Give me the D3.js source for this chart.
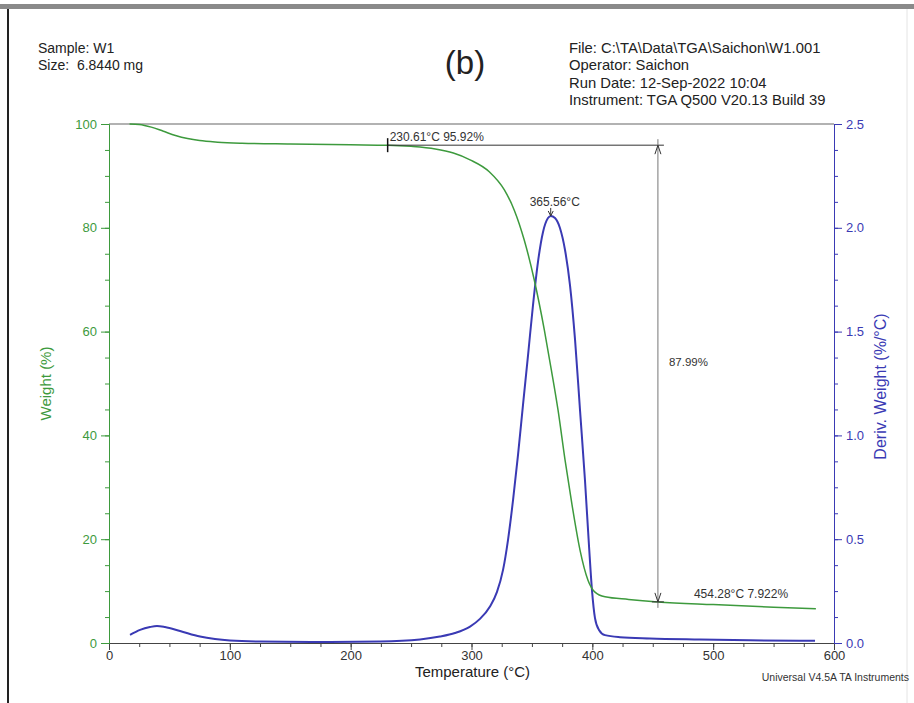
<!DOCTYPE html>
<html>
<head>
<meta charset="utf-8">
<script src="https://cdn.jsdelivr.net/npm/d3@7/dist/d3.min.js"></script>
<style>
  body { margin: 0; background: #fff; }
  text { font-family: "Liberation Sans", Arial, sans-serif; white-space: pre; }
</style>
</head>
<body>
<script>
// weight curve (green)
const weightT = [17, 25, 35, 45, 55, 65, 75, 90, 110, 150, 200, 230.6, 250, 270, 285, 298.8, 314.7, 327.2, 335.4, 343.7, 352.0, 360.3, 366.1, 371.6, 377.4, 383.2, 389.8, 396.4, 402.2, 410.5, 430, 454.28, 500, 550, 585];
const weightW = [100, 99.9, 99.4, 98.6, 97.8, 97.2, 96.8, 96.5, 96.3, 96.15, 96.0, 95.92, 95.7, 95.2, 94.4, 93.1, 90.8, 87.3, 83.4, 77.6, 69.9, 60.3, 52.6, 44.9, 35.3, 26.6, 17.9, 12.1, 9.8, 8.9, 8.4, 7.922, 7.4, 6.9, 6.6];

// derivative curve (blue)
const derivT = [17.4, 25.7, 33.9, 39.7, 46.3, 58.8, 75.3, 87.7, 100.1, 125, 182.9, 224.3, 257.4, 273.9, 286.3, 298.8, 307, 315.3, 321.1, 326.1, 330.2, 334.4, 338.5, 342.6, 346.8, 350.9, 355.0, 359.2, 363.3, 365.6, 369.1, 373.2, 377.4, 381.5, 385.7, 389.8, 393.9, 397.2, 399.7, 402.2, 405.5, 410.5, 422.9, 447.7, 489.1, 530.5, 571.9, 584.3];
const derivD = [0.039, 0.063, 0.077, 0.082, 0.077, 0.058, 0.031, 0.019, 0.012, 0.007, 0.005, 0.007, 0.017, 0.031, 0.048, 0.079, 0.116, 0.176, 0.246, 0.352, 0.496, 0.689, 0.906, 1.146, 1.387, 1.628, 1.835, 1.980, 2.047, 2.057, 2.047, 1.999, 1.893, 1.724, 1.460, 1.122, 0.785, 0.472, 0.255, 0.120, 0.063, 0.038, 0.028, 0.022, 0.017, 0.013, 0.011, 0.011];

const xTicks = [0, 100, 200, 300, 400, 500, 600];
const leftTicks = [0, 20, 40, 60, 80, 100];
const rightTicks = [0, 0.5, 1.0, 1.5, 2.0, 2.5];

const headerLeft = ["Sample: W1", "Size:  6.8440 mg"];
const headerRight = ["File: C:\\TA\\Data\\TGA\\Saichon\\W1.001", "Operator: Saichon", "Run Date: 12-Sep-2022 10:04", "Instrument: TGA Q500 V20.13 Build 39"];

// annotations
const stepStart = { t: 230.61, w: 95.92 };
const stepEnd = { t: 454.28, w: 7.922 };
const stepLoss = "87.99%";
const peak = { t: 365.56, d: 2.057 };

const green = "#3d9a3d";
const blue = "#3a3ab4";

const W = 914, H = 703;
const m = { left: 109, right: 834, top: 124, bottom: 643 };

const svg = d3.select("body").append("svg")
    .attr("width", W)
    .attr("height", H);

// page frame
svg.append("rect").attr("x", 0).attr("y", 4).attr("width", W).attr("height", 5).attr("fill", "#8a8a8a");
svg.append("line").attr("x1", 8).attr("x2", 8).attr("y1", 9).attr("y2", H)
    .attr("stroke", "#222").attr("stroke-width", 2);
svg.append("line").attr("x1", 907).attr("x2", 907).attr("y1", 9).attr("y2", H)
    .attr("stroke", "#e4e4e4").attr("stroke-width", 1);

const x = d3.scaleLinear().domain([0, 600]).range([m.left, m.right]);
const yW = d3.scaleLinear().domain([0, 100]).range([m.bottom, m.top]);
const yD = d3.scaleLinear().domain([0, 2.5]).range([m.bottom, m.top]);

// top border
svg.append("line").attr("x1", m.left).attr("x2", m.right).attr("y1", m.top).attr("y2", m.top)
    .attr("stroke", "#666").attr("stroke-width", 1.2);

// x axis
const xMin = svg.append("g").attr("transform", `translate(0,${m.bottom})`)
    .call(d3.axisBottom(x).tickValues(d3.range(0, 601, 25)).tickSize(4).tickFormat(""));
xMin.select(".domain").attr("stroke", "#444");
xMin.selectAll(".tick line").attr("stroke", "#444");
const xMaj = svg.append("g").attr("transform", `translate(0,${m.bottom})`)
    .call(d3.axisBottom(x).tickValues(xTicks).tickSize(7).tickPadding(1));
xMaj.select(".domain").remove();
xMaj.selectAll(".tick line").attr("stroke", "#444");
xMaj.selectAll("text").attr("font-size", 13).attr("fill", "#333");

// left axis
const lMin = svg.append("g").attr("transform", `translate(${m.left},0)`)
    .call(d3.axisLeft(yW).tickValues(d3.range(0, 101, 5)).tickSize(4).tickFormat(""));
lMin.select(".domain").attr("stroke", green);
lMin.selectAll(".tick line").attr("stroke", green);
const lMaj = svg.append("g").attr("transform", `translate(${m.left},0)`)
    .call(d3.axisLeft(yW).tickValues(leftTicks).tickSize(8).tickPadding(4));
lMaj.select(".domain").remove();
lMaj.selectAll(".tick line").attr("stroke", green);
lMaj.selectAll("text").attr("font-size", 13).attr("fill", green);

// right axis
const rMin = svg.append("g").attr("transform", `translate(${m.right},0)`)
    .call(d3.axisRight(yD).tickValues(d3.range(0, 2.501, 0.125)).tickSize(4).tickFormat(""));
rMin.select(".domain").attr("stroke", blue);
rMin.selectAll(".tick line").attr("stroke", blue);
const rMaj = svg.append("g").attr("transform", `translate(${m.right},0)`)
    .call(d3.axisRight(yD).tickValues(rightTicks).tickSize(8).tickPadding(4).tickFormat(d3.format(".1f")));
rMaj.select(".domain").remove();
rMaj.selectAll(".tick line").attr("stroke", blue);
rMaj.selectAll("text").attr("font-size", 13).attr("fill", blue);

// axis titles
svg.append("text").attr("x", (m.left + m.right) / 2 + 1).attr("y", 677)
    .attr("text-anchor", "middle").attr("font-size", 15).attr("fill", "#222")
    .text("Temperature (°C)");
svg.append("text").attr("transform", `translate(51,${(m.top + m.bottom) / 2}) rotate(-90)`)
    .attr("text-anchor", "middle").attr("font-size", 15).attr("fill", green)
    .text("Weight (%)");
svg.append("text").attr("transform", `translate(886,${(m.top + m.bottom) / 2 + 3}) rotate(-90)`)
    .attr("text-anchor", "middle").attr("font-size", 16).attr("fill", blue)
    .text("Deriv. Weight (%/°C)");
svg.append("text").attr("x", 909).attr("y", 681).attr("text-anchor", "end")
    .attr("font-size", 10.5).attr("fill", "#333").text("Universal V4.5A TA Instruments");

// header
svg.selectAll(".hl").data(headerLeft).join("text")
    .attr("x", 38).attr("y", (d, i) => 53 + i * 17.3)
    .attr("font-size", 14).attr("fill", "#222").text(d => d);
svg.selectAll(".hr").data(headerRight).join("text")
    .attr("x", 569).attr("y", (d, i) => 53 + i * 17.3)
    .attr("font-size", 14.8).attr("fill", "#222").text(d => d);
svg.append("text").attr("x", 465).attr("y", 74).attr("text-anchor", "middle")
    .attr("font-size", 33).attr("fill", "#222").text("(b)");

// curves
const weightLine = d3.line().x((d, i) => x(weightT[i])).y(d => yW(d)).curve(d3.curveMonotoneX);
const derivLine = d3.line().x((d, i) => x(derivT[i])).y(d => yD(d)).curve(d3.curveMonotoneX);

svg.append("path").attr("d", derivLine(derivD))
    .attr("fill", "none").attr("stroke", blue).attr("stroke-width", 2);
svg.append("path").attr("d", weightLine(weightW))
    .attr("fill", "none").attr("stroke", green).attr("stroke-width", 1.5);

// step annotation
const ax = x(stepEnd.t), ay1 = yW(stepStart.w), ay2 = yW(stepEnd.w);
const ann = svg.append("g").attr("stroke", "#555").attr("fill", "none");
ann.append("line").attr("x1", x(stepStart.t)).attr("x2", ax + 6).attr("y1", ay1).attr("y2", ay1).attr("stroke", "#333");
ann.append("line").attr("x1", x(stepStart.t)).attr("x2", x(stepStart.t)).attr("y1", ay1 - 7).attr("y2", ay1 + 7).attr("stroke", "#111").attr("stroke-width", 1.5);
ann.append("line").attr("x1", ax).attr("x2", ax).attr("y1", ay1 - 6).attr("y2", ay2 + 6).attr("stroke", "#777");
ann.append("line").attr("x1", ax - 6).attr("x2", ax + 6).attr("y1", ay2).attr("y2", ay2).attr("stroke", "#333");
ann.append("path").attr("d", `M${ax - 3},${ay1 + 9}L${ax},${ay1}L${ax + 3},${ay1 + 9}`).attr("stroke", "#333");
ann.append("path").attr("d", `M${ax - 3},${ay2 - 9}L${ax},${ay2}L${ax + 3},${ay2 - 9}`).attr("stroke", "#333");

svg.append("text").attr("x", x(stepStart.t) + 2).attr("y", ay1 - 4)
    .attr("font-size", 12).attr("fill", "#333").text(`${stepStart.t}°C ${stepStart.w}%`);
svg.append("text").attr("x", ax + 36).attr("y", ay2 - 4)
    .attr("font-size", 12).attr("fill", "#333").text(`${stepEnd.t}°C ${stepEnd.w}%`);
svg.append("text").attr("x", ax + 11).attr("y", (ay1 + ay2) / 2 - 8)
    .attr("font-size", 11.5).attr("fill", "#333").text(stepLoss);

// peak annotation
const px = x(peak.t), py = yD(peak.d);
svg.append("text").attr("x", px + 4).attr("y", py - 10).attr("text-anchor", "middle")
    .attr("font-size", 12).attr("fill", "#333").text(`${peak.t}°C`);
svg.append("line").attr("x1", px).attr("x2", px).attr("y1", py - 8).attr("y2", py)
    .attr("stroke", "#333");
svg.append("path").attr("d", `M${px - 2.5},${py - 5}L${px},${py}L${px + 2.5},${py - 5}`)
    .attr("stroke", "#333").attr("fill", "none");
</script>
</body>
</html>
